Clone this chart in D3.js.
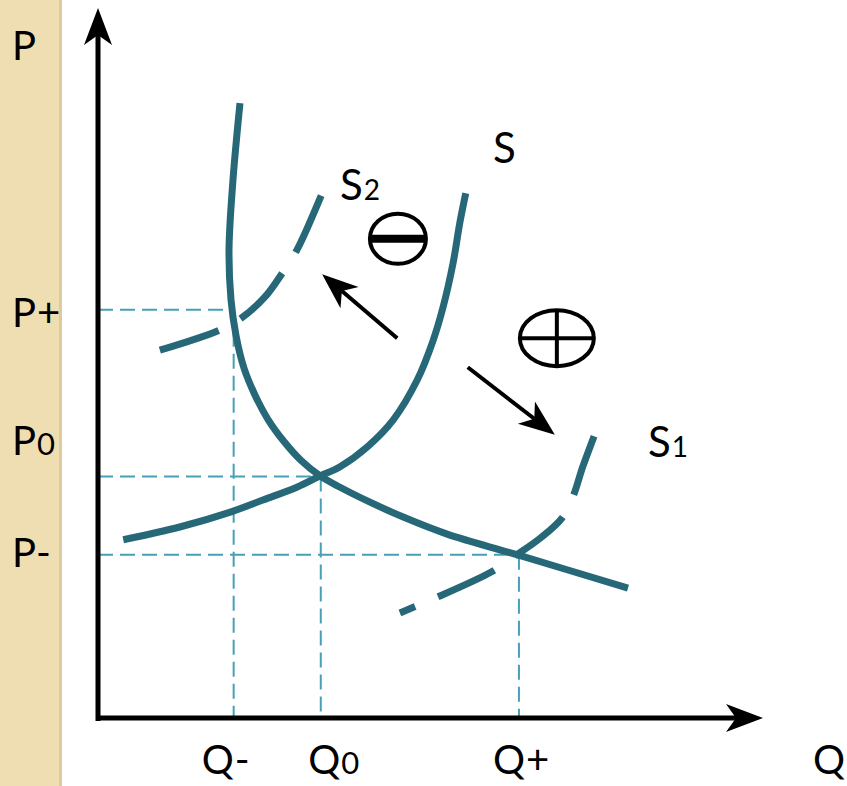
<!DOCTYPE html>
<html>
<head>
<meta charset="utf-8">
<script src="https://cdn.jsdelivr.net/npm/d3@7"></script>
<style>
  html, body { margin: 0; padding: 0; background: #fff; }
  svg { display: block; }
  text { font-family: Lato, "Open Sans", sans-serif; fill: #000; }
</style>
</head>
<body>
<svg id="chart" width="847" height="786"></svg>
<script>
// Curves, in (quantity, price) units, axes both run 0..10
const demandCurve = [[2.135, 8.66], [2.03, 7.58], [1.97, 6.59], [2.00, 5.89], [2.075, 5.39], [2.195, 4.93],
                     [2.36, 4.55], [2.56, 4.20], [2.80, 3.89], [3.05, 3.63], [3.34, 3.41], [3.64, 3.25],
                     [4.09, 3.04], [4.59, 2.83], [5.25, 2.59], [6.30, 2.30], [7.97, 1.83]];
const supplyCurve = [[0.38, 2.51], [1.23, 2.69], [1.99, 2.90], [2.48, 3.07], [2.99, 3.25], [3.34, 3.41],
                     [3.64, 3.54], [4.05, 3.82], [4.44, 4.20], [4.80, 4.76], [5.04, 5.32], [5.19, 5.79],
                     [5.34, 6.41], [5.44, 6.97], [5.53, 7.39]];
const supply2Curve = [[0.93, 5.18], [1.82, 5.46], [2.15, 5.63], [2.51, 5.93], [2.78, 6.28], [2.99, 6.59], [3.37, 7.39]];
const supply1Curve = [[7.46, 3.97], [7.29, 3.54], [7.14, 3.11], [6.98, 2.82], [6.66, 2.54], [6.30, 2.30],
                      [5.92, 2.06], [5.07, 1.69], [4.54, 1.48]];

// equilibrium points: [Q, P]
const equilibria = [[2.04, 5.75], [3.35, 3.40], [6.33, 2.30]];

// shift arrows [from, to]
const shiftArrows = [[[4.50, 5.35], [3.37, 6.25]], [[5.56, 4.94], [6.87, 3.99]]];
const minusSign = [4.51, 6.75];
const plusSign = [6.90, 5.35];

// tick labels
const pLabelSub = ["", "+", "0", "-"];
const pLabelAt = [9.46, 5.70, 3.90, 2.32];
const qLabelSub = ["-", "0", "+", ""];
const qLabelAt = [1.56, 3.16, 5.94, 10.75];

// curve labels
const curveLabelSub = ["", "2", "1"];
const curveLabelAt = [[5.94, 7.82], [3.64, 7.30], [8.27, 3.68]];

const svg = d3.select("#chart");
const x = d3.scaleLinear().domain([0, 10]).range([98, 763]);
const y = d3.scaleLinear().domain([0, 10]).range([718, 8]);

const teal = "#276878";
const guideCol = "#47a0b8";

// beige side strip
svg.append("rect").attr("x", 0).attr("y", 0).attr("width", 60).attr("height", 786).attr("fill", "#efdeb2");
svg.append("rect").attr("x", 59).attr("y", 0).attr("width", 3).attr("height", 786).attr("fill", "#dccb9c");

// dashed guides
const guides = svg.append("g").attr("stroke", guideCol).attr("stroke-width", 2).attr("stroke-dasharray", "15,7").attr("fill", "none");
equilibria.forEach(([q, p]) => {
    guides.append("line").attr("x1", x(0)).attr("x2", x(q)).attr("y1", y(p)).attr("y2", y(p));
    guides.append("line").attr("x1", x(q)).attr("x2", x(q)).attr("y1", y(p)).attr("y2", y(0));
});

// curves
const line = d3.line().x(d => x(d[0])).y(d => y(d[1])).curve(d3.curveCatmullRom);
function curve(data, dashed) {
    const p = svg.append("path").attr("d", line(data)).attr("fill", "none")
        .attr("stroke", teal).attr("stroke-width", 7);
    if (dashed) p.attr("stroke-dasharray", "62,25");
}
curve(demandCurve, false);
curve(supplyCurve, false);
curve(supply2Curve, true);
curve(supply1Curve, true);

// arrow with notched head
function arrow(x1, y1, x2, y2, w, len, half, notch) {
    const a = Math.atan2(y2 - y1, x2 - x1);
    const ux = Math.cos(a), uy = Math.sin(a);
    svg.append("line").attr("x1", x1).attr("y1", y1)
        .attr("x2", x2 - ux * notch).attr("y2", y2 - uy * notch)
        .attr("stroke", "#000").attr("stroke-width", w);
    const bx = x2 - ux * len, by = y2 - uy * len;
    const pts = [[x2, y2], [bx - uy * half, by + ux * half],
                 [x2 - ux * notch, y2 - uy * notch], [bx + uy * half, by - ux * half]];
    svg.append("polygon").attr("points", pts.map(p => p.join(",")).join(" ")).attr("fill", "#000");
}

// axes
arrow(x(0), y(0) + 3, x(0), y(10), 5, 37, 14, 27);
arrow(x(0) - 2, y(0), x(10), y(0), 5, 37, 14, 27);

shiftArrows.forEach(([f, t]) => arrow(x(f[0]), y(f[1]), x(t[0]), y(t[1]), 4, 36, 14, 26));

// minus / plus signs
const g1 = svg.append("g").attr("stroke", "#000").attr("fill", "none");
g1.append("ellipse").attr("cx", x(minusSign[0])).attr("cy", y(minusSign[1])).attr("rx", 28).attr("ry", 25).attr("stroke-width", 4);
g1.append("line").attr("x1", x(minusSign[0]) - 28).attr("x2", x(minusSign[0]) + 28)
    .attr("y1", y(minusSign[1])).attr("y2", y(minusSign[1])).attr("stroke-width", 8);
g1.append("ellipse").attr("cx", x(plusSign[0])).attr("cy", y(plusSign[1])).attr("rx", 37).attr("ry", 28).attr("stroke-width", 4);
g1.append("line").attr("x1", x(plusSign[0]) - 37).attr("x2", x(plusSign[0]) + 37)
    .attr("y1", y(plusSign[1])).attr("y2", y(plusSign[1])).attr("stroke-width", 4);
g1.append("line").attr("x1", x(plusSign[0])).attr("x2", x(plusSign[0]))
    .attr("y1", y(plusSign[1]) - 28).attr("y2", y(plusSign[1]) + 28).attr("stroke-width", 4);

// labels
function label(main, sub, px, py, size, subSize) {
    const t = svg.append("text").attr("x", px).attr("y", py).attr("font-size", size);
    t.append("tspan").text(main);
    if (sub) {
        const s = /[0-9]/.test(sub) ? subSize : size;
        t.append("tspan").attr("font-size", s).attr("dx", 1).text(sub);
    }
}
pLabelAt.forEach((v, i) => label("P", pLabelSub[i], 12, y(v) + 14, 40, 31));
qLabelAt.forEach((v, i) => label("Q", qLabelSub[i], x(v), y(0) + 56, 40, 31));
curveLabelAt.forEach((v, i) => label("S", curveLabelSub[i], x(v[0]), y(v[1]), 42, 28));
</script>
</body>
</html>
